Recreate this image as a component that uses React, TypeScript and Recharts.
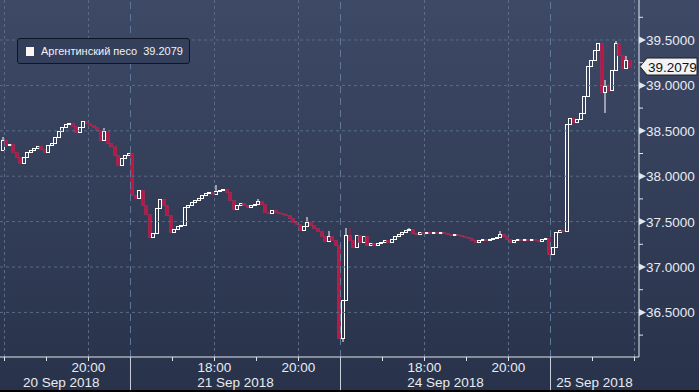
import React from 'react';
import { ComposedChart, Bar, XAxis, YAxis, ReferenceLine } from 'recharts';

const SERIES_NAME = 'Аргентинский песо';
const LAST_PRICE = 39.2079;

// 5-minute bars; time axis in hours from 20 Sep 18:00, sessions glued together
const FIRST_OPEN = 38.2886;
const closes = [
  // 20 Sep
  38.3987, 38.3436, 38.3546, 38.2665, 38.2115, 38.1454, 38.2115, 38.2665, 38.2886, 38.3106,
  38.3326, 38.2996, 38.2665, 38.3436, 38.3656, 38.4317, 38.4978, 38.5418, 38.5749, 38.5859,
  38.5529, 38.4868, 38.5418, 38.6079, 38.5859, 38.5639, 38.5418, 38.5088, 38.3987, 38.4978,
  38.3656, 38.3326, 38.2335, 38.1234, 38.2004, 38.2335, 38.2555,
  // 21 Sep
  37.7930, 37.7599, 37.8480, 37.6828, 37.5837, 37.3304, 37.3745, 37.6498, 37.7489, 37.6828,
  37.5727, 37.3855, 37.4185, 37.4516, 37.4626, 37.6608, 37.6828, 37.7159, 37.7379, 37.7599,
  37.7930, 37.8150, 37.8260, 37.8040, 37.8370, 37.8480, 37.8590, 37.8260, 37.7379, 37.6388,
  37.6828, 37.7049, 37.6828, 37.6608, 37.6828, 37.6939, 37.7269, 37.6939, 37.6057, 37.5947,
  37.6278, 37.6057, 37.5947, 37.5837, 37.5727, 37.5397, 37.4956, 37.4736, 37.4075, 37.4516,
  37.4956, 37.4626, 37.4295, 37.3965, 37.3414, 37.2864, 37.3414, 37.2974, 37.2423, 36.2181,
  // 24 Sep
  36.6366, 37.3524, 37.2974, 37.2203, 37.3524, 37.2754, 37.3414, 37.2423, 37.2643, 37.2423,
  37.2643, 37.2754, 37.2974, 37.2754, 37.3084, 37.3414, 37.3635, 37.3855, 37.4075, 37.4185,
  37.3745, 37.3635, 37.3855, 37.3745, 37.3855, 37.3745, 37.3855, 37.3745, 37.3855, 37.3745,
  37.3635, 37.3524, 37.3635, 37.3524, 37.3414, 37.3304, 37.3194, 37.2974, 37.2754, 37.2974,
  37.3084, 37.2974, 37.3084, 37.3194, 37.3304, 37.3635, 37.3414, 37.3084, 37.2754, 37.2974,
  37.3084, 37.2974, 37.3084, 37.2974, 37.3084, 37.2974, 37.2864, 37.3084, 37.3194, 37.1432,
  // 25 Sep
  37.2203, 37.3855, 37.4075, 37.3965, 38.5749, 38.6410, 38.5969, 38.6300, 38.6960, 38.8833,
  39.2136, 39.2797, 39.3899, 39.4669, 38.9273, 38.9934, 38.9493, 39.1696, 39.4669, 39.3348,
  39.1916, 39.2797, 39.2079,
];

// shadows that stick out of the body
const wicks: { i: number; high?: number; low?: number }[] = [
  { i: 0, high: 38.4317 },
  { i: 29, high: 38.5308 },
  { i: 61, high: 37.9031 },
  { i: 73, high: 37.7489 },
  { i: 87, high: 37.5507 },
  { i: 93, high: 37.3965 },
  { i: 97, low: 36.1741 },
  { i: 98, high: 37.4295 },
  { i: 99, high: 37.4295 },
  { i: 116, high: 37.4295 },
  { i: 142, high: 37.3965 },
  { i: 156, low: 37.1322 },
  { i: 172, high: 39.0595, low: 38.696 },
  { i: 175, high: 39.489 },
  { i: 178, high: 39.3238 },
];

const priceTicks = [36.25, 36.5, 36.75, 37, 37.25, 37.5, 37.75, 38, 38.25, 38.5, 38.75, 39, 39.25, 39.5, 39.75];
const priceLabels = [36.5, 37, 37.5, 38, 38.5, 39, 39.5];
const hourTicks = [0, 1, 2, 3, 4, 5, 6, 7, 8, 9, 10, 11, 12, 13, 14, 15];
const timeLabels = [
  { t: 2, label: '20:00' },
  { t: 5, label: '18:00' },
  { t: 7, label: '20:00' },
  { t: 10, label: '18:00' },
  { t: 12, label: '20:00' },
];
const gridHours = [0, 2, 5, 7, 10, 12, 15];
const sessionBreaks = [3, 8, 13];
const dateLabels = [
  { t: 1.35, label: '20 Sep 2018' },
  { t: 5.5, label: '21 Sep 2018' },
  { t: 10.5, label: '24 Sep 2018' },
  { t: 14.05, label: '25 Sep 2018' },
];

const FONT = "'Liberation Sans', Arial, sans-serif";
const GRID = '#5b6b88';
const BREAK = '#617897';
const AXIS = '#e2e6ec';
const TEXT = '#e8ebf0';
const RED = '#bd1642';
const RED_EDGE = 'rgba(160,45,90,0.75)';

const rows = closes.map((close, i) => {
  const open = i === 0 ? FIRST_OPEN : closes[i - 1];
  const w = wicks.find(d => d.i === i);
  const high = Math.max(open, close, w?.high ?? -Infinity);
  const low = Math.min(open, close, w?.low ?? Infinity);
  return { t: (i - 0.5) / 12, open, close, high, low, range: [low, high] };
});

function Candle(props: any) {
  const { x, y, width, height, payload } = props;
  if (!payload || x == null) return null;
  const { open, close, high, low } = payload;
  const top = Math.min(y, y + height);
  const h = Math.abs(height);
  const k = high > low ? h / (high - low) : 0;
  const py = (v: number) => top + (high - v) * k;
  const cx = x + width / 2;
  const up = close >= open;
  const yTop = Math.round(py(Math.max(open, close)));
  const yBot = Math.max(Math.round(py(Math.min(open, close))), yTop + 1);
  const yHigh = py(high);
  const yLow = py(low);
  const left = Math.round(cx - 1.5) + 0.5;
  const mid = left + 1.5;
  if (up) {
    return (
      <g>
        {yHigh < yTop - 0.5 && <line x1={mid} x2={mid} y1={yHigh} y2={yTop} stroke="#fff" />}
        {yLow > yBot + 0.5 && <line x1={mid} x2={mid} y1={yBot} y2={yLow} stroke="#fff" />}
        <rect x={left} y={yTop + 0.5} width={3} height={yBot - yTop} fill="none" stroke="#fff" strokeWidth={1} />
      </g>
    );
  }
  return (
    <g>
      {yHigh < yTop - 0.5 && <line x1={mid} x2={mid} y1={yHigh} y2={yTop} stroke={RED} />}
      {yLow > yBot + 0.5 && <line x1={mid} x2={mid} y1={yBot} y2={yLow} stroke={RED} />}
      <rect x={left} y={yTop + 0.5} width={3} height={yBot - yTop} fill={RED} stroke={RED_EDGE} strokeWidth={1} />
    </g>
  );
}

function PriceTick({ x, y, payload }: any) {
  const v = payload.value;
  if (!priceLabels.includes(v)) {
    return <line x1={x} x2={x + 4} y1={y} y2={y} stroke={AXIS} />;
  }
  return (
    <g>
      <polygon points={`${x},${y - 3.5} ${x + 7},${y} ${x},${y + 3.5}`} fill={AXIS} />
      <text x={x + 7} y={y + 5} fill={TEXT} fontSize={13.5} fontFamily={FONT}>
        {v.toFixed(4)}
      </text>
    </g>
  );
}

function TimeTick({ x, y, payload }: any) {
  const t = payload.value;
  const isBreak = sessionBreaks.includes(t);
  const label = timeLabels.find(l => l.t === t);
  return (
    <g>
      <line x1={x} x2={x} y1={y} y2={isBreak ? y + 35 : y + 4} stroke={isBreak ? '#c9cfd9' : AXIS} />
      {label && (
        <text x={x} y={y + 15} textAnchor="middle" fill={TEXT} fontSize={13.5} fontFamily={FONT}>
          {label.label}
        </text>
      )}
    </g>
  );
}

function PriceTag(props: any) {
  const { viewBox } = props;
  if (!viewBox) return null;
  const x = viewBox.x + viewBox.width;
  const y = viewBox.y;
  return (
    <g>
      <polygon
        points={`${x + 1},${y} ${x + 8},${y - 8.5} ${x + 58},${y - 8.5} ${x + 58},${y + 8.5} ${x + 8},${y + 8.5}`}
        fill="#f3f3f3"
        stroke="#1b1f28"
      />
      <text x={x + 9} y={y + 5} fill="#111" fontSize={13.5} fontFamily={FONT}>
        {LAST_PRICE.toFixed(4)}
      </text>
    </g>
  );
}

export default function App() {
  return (
    <div
      style={{
        position: 'absolute',
        left: 0,
        top: 0,
        width: 699,
        height: 392,
        overflow: 'hidden',
        background: 'linear-gradient(to bottom, #3e4966 0%, #28324a 100%)',
        fontFamily: FONT,
      }}
    >
      <ComposedChart width={699} height={392} data={rows} margin={{ top: 0, right: 0, bottom: 0, left: 0 }}>
        <XAxis
          dataKey="t"
          type="number"
          domain={[-0.107, 15.107]}
          allowDataOverflow
          ticks={hourTicks}
          interval={0}
          height={35}
          tickSize={0}
          tickMargin={0}
          axisLine={{ stroke: AXIS }}
          tick={<TimeTick />}
        />
        <YAxis
          orientation="right"
          type="number"
          domain={[36.0089, 39.9405]}
          allowDataOverflow
          ticks={priceTicks}
          interval={0}
          width={60}
          tickSize={0}
          tickMargin={0}
          axisLine={{ stroke: AXIS }}
          tick={<PriceTick />}
        />
        {priceLabels.map(v => (
          <ReferenceLine key={`h${v}`} y={v} stroke={GRID} strokeDasharray="3 3" />
        ))}
        {gridHours.map(t => (
          <ReferenceLine key={`v${t}`} x={t} stroke={GRID} strokeDasharray="3 3" />
        ))}
        {sessionBreaks.map(t => (
          <ReferenceLine key={`b${t}`} x={t} stroke={BREAK} strokeDasharray="7 5" />
        ))}
        {dateLabels.map(d => (
          <ReferenceLine
            key={`d${d.t}`}
            x={d.t}
            stroke="none"
            label={(p: any) =>
              p.viewBox ? (
                <text
                  x={p.viewBox.x}
                  y={p.viewBox.y + p.viewBox.height + 30}
                  textAnchor="middle"
                  fill={TEXT}
                  fontSize={13.5}
                  fontFamily={FONT}
                >
                  {d.label}
                </text>
              ) : null
            }
          />
        ))}
        <Bar dataKey="range" barSize={3} shape={<Candle />} isAnimationActive={false} />
        <ReferenceLine y={LAST_PRICE} stroke="none" label={(p: any) => <PriceTag {...p} />} />
      </ComposedChart>
      <div
        style={{
          position: 'absolute',
          left: 17,
          top: 38,
          width: 173,
          height: 26,
          boxSizing: 'border-box',
          border: '1px solid #0e1524',
          borderRadius: 3,
          background: '#34405b',
          display: 'flex',
          alignItems: 'center',
          paddingLeft: 8,
          color: '#f2f2f2',
          fontSize: 11,
          whiteSpace: 'nowrap',
        }}
      >
        <span style={{ display: 'inline-block', width: 8, height: 9, background: '#fbf6f2', marginRight: 7 }} />
        <span>{SERIES_NAME}</span>
        <span style={{ marginLeft: 6 }}>{LAST_PRICE.toFixed(4)}</span>
      </div>
      <div style={{ position: 'absolute', left: 0, bottom: 0, width: 699, height: 2, background: '#000' }} />
    </div>
  );
}
